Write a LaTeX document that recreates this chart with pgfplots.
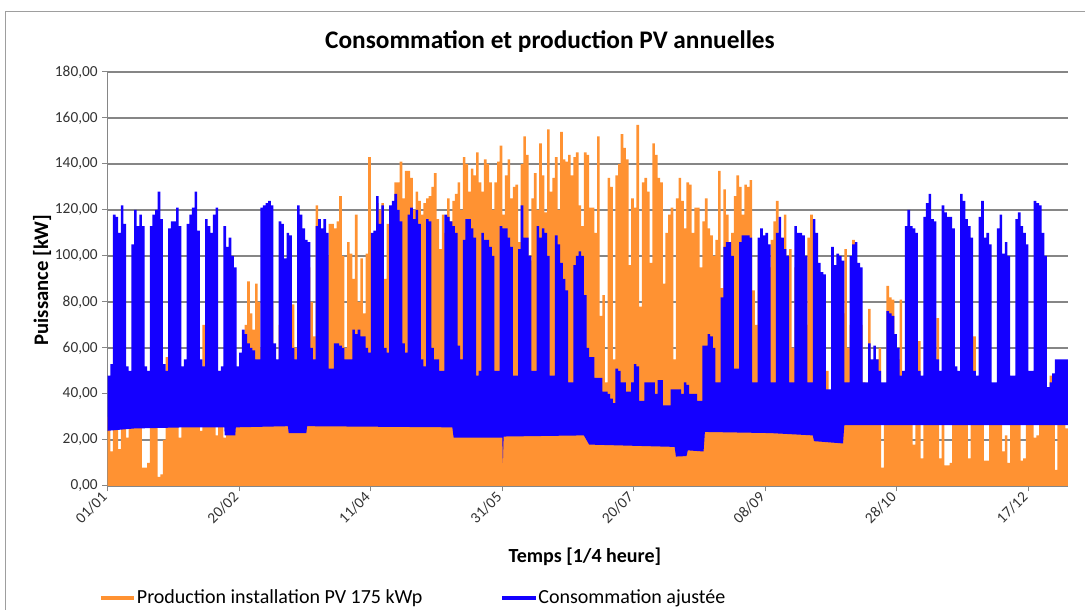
\documentclass[border=0pt]{standalone}
\usepackage{fontspec}
\setmainfont{Carlito}
\usepackage{pgfplots}
\pgfplotsset{compat=1.18}
\usepgfplotslibrary{fillbetween}
\usepackage{pgfplotstable}
\definecolor{pvorange}{RGB}{255,146,50}
\definecolor{consblue}{RGB}{20,0,255}
\definecolor{gridgray}{RGB}{134,134,134}
\definecolor{txtgray}{RGB}{50,50,50}
\pgfplotstableread{
d bm om
0 48 30
1 53 15
2 118 35
3 117 25
4 110 16
5 122 30
6 114 40
7 52 21
8 50 30
9 105 35
10 120 40
11 113 30
12 118 35
13 113 8
14 52 8
15 50 10
16 113 30
17 118 35
18 120 40
19 128 4
20 116 5
21 53 20
22 50 56
23 112 35
24 115 40
25 115 45
26 121 40
27 113 21
28 52 45
29 55 50
30 114 40
31 118 45
32 121 35
33 128 50
34 111 40
35 55 24
36 52 70
37 116 45
38 113 50
39 110 40
40 118 45
41 121 22
42 50 50
43 52 48
44 113 21
45 104 55
46 108 50
47 100 60
48 95 45
49 52 50
50 58 52
51 68 55
52 66 70
53 62 89
54 60 75
55 59 68
56 55 88
57 55 80
58 121 60
59 122 65
60 123 70
61 124 75
62 122 80
63 62 55
64 55 50
65 115 70
66 114 80
67 99 85
68 110 75
69 109 90
70 60 79
71 55 60
72 122 85
73 118 90
74 112 95
75 107 80
76 106 95
77 60 80
78 55 65
79 113 122
80 116 100
81 112 95
82 116 105
83 110 100
84 51 114
85 51 114
86 62 112
87 62 115
88 61 126
89 60 100
90 55 60
91 55 106
92 55 101
93 68 90
94 66 118
95 68 80
96 65 99
97 65 75
98 60 101
99 58 143
100 110 95
101 111 100
102 126 123
103 114 120
104 122 123
105 60 90
106 58 114
107 122 112
108 124 115
109 127 132
110 120 132
111 115 141
112 62 125
113 58 137
114 118 137
115 121 134
116 116 120
117 120 128
118 114 124
119 55 118
120 52 123
121 116 125
122 115 126
123 60 130
124 55 136
125 55 116
126 50 103
127 50 118
128 118 110
129 117 125
130 115 115
131 113 124
132 110 127
133 61 132
134 55 120
135 107 143
136 116 140
137 116 128
138 112 138
139 108 135
140 48 145
141 50 132
142 110 128
143 107 142
144 107 140
145 104 132
146 100 120
147 50 132
148 50 141
149 113 148
150 112 118
151 112 135
152 108 142
153 104 125
154 48 130
155 48 131
156 103 106
157 122 140
158 108 152
159 108 144
160 100 98
161 50 125
162 50 136
163 113 120
164 108 149
165 112 135
166 110 119
167 100 155
168 48 128
169 48 134
170 109 143
171 105 120
172 97 154
173 90 142
174 85 141
175 45 144
176 45 135
177 96 143
178 100 145
179 102 122
180 100 113
181 83 145
182 60 144
183 56 121
184 56 121
185 47 110
186 47 152
187 47 74
188 41 83
189 41 45
190 40 134
191 38 130
192 36 55
193 51 135
194 50 140
195 45 153
196 45 147
197 41 142
198 41 96
199 45 125
200 53 121
201 52 157
202 37 78
203 37 132
204 45 134
205 45 128
206 45 97
207 45 149
208 40 144
209 46 134
210 46 132
211 35 88
212 35 110
213 35 118
214 42 121
215 42 55
216 42 125
217 42 134
218 40 124
219 45 112
220 44 132
221 40 131
222 40 110
223 40 121
224 37 121
225 37 95
226 61 115
227 61 125
228 66 112
229 65 109
230 60 100
231 45 107
232 45 137
233 82 86
234 104 129
235 106 118
236 106 80
237 100 110
238 51 126
239 51 135
240 106 130
241 109 118
242 109 131
243 109 130
244 108 133
245 45 85
246 45 70
247 108 100
248 112 95
249 109 90
250 110 100
251 105 95
252 45 107
253 45 115
254 110 124
255 117 100
256 108 90
257 103 118
258 100 95
259 45 103
260 45 60
261 113 95
262 110 90
263 110 100
264 109 80
265 100 70
266 45 108
267 45 118
268 116 90
269 110 85
270 97 80
271 93 60
272 92 75
273 42 50
274 42 40
275 104 95
276 96 85
277 101 80
278 100 90
279 98 75
280 45 103
281 45 60
282 100 70
283 105 107
284 106 80
285 97 75
286 95 70
287 45 45
288 45 40
289 62 77
290 55 50
291 61 45
292 55 55
293 50 60
294 45 8
295 45 40
296 76 87
297 75 82
298 74 81
299 66 60
300 60 55
301 48 81
302 50 40
303 113 45
304 120 40
305 113 35
306 112 18
307 110 40
308 50 63
309 48 12
310 117 35
311 123 40
312 127 30
313 116 35
314 115 30
315 55 73
316 50 12
317 122 30
318 119 9
319 117 9
320 117 10
321 112 35
322 52 30
323 50 35
324 127 40
325 124 35
326 116 30
327 113 12
328 108 35
329 50 65
330 48 30
331 117 35
332 124 30
333 108 11
334 110 11
335 105 30
336 45 35
337 45 30
338 112 35
339 118 30
340 101 15
341 106 22
342 100 10
343 48 30
344 48 35
345 116 30
346 119 35
347 113 11
348 110 12
349 105 30
350 50 35
351 50 30
352 124 21
353 123 22
354 122 30
355 110 35
356 100 30
357 43 30
358 45 48
359 49 40
360 55 7
361 55 35
362 55 30
363 55 30
364 55 25
365 55 25
}\data

\begin{document}
\begin{tikzpicture}
\begin{axis}[
  set layers,
  at={(0pt,0pt)}, anchor=south west, scale only axis,
  width=720.2pt, height=310.5pt,
  xmin=0, xmax=365, ymin=0, ymax=180,
  axis x line*=bottom, axis y line*=left,
  axis line style={gridgray, line width=0.75pt},
  ytick={0,20,...,180},
  xtick={0,50,...,350},
  xticklabels={01/01,20/02,11/04,31/05,20/07,08/09,28/10,17/12},
  tick style={gridgray, line width=0.75pt},
  tick align=outside, major tick length=4pt,
  ymajorgrids, grid style={gridgray, line width=0.9pt},
  tick label style={font=\fontsize{11.5}{13}\selectfont, text=txtgray},
  yticklabel style={/pgf/number format/fixed, /pgf/number format/fixed zerofill, /pgf/number format/precision=2, /pgf/number format/use comma, /pgf/number format/assume math mode=true},
  xticklabel style={rotate=45, anchor=east},
  title={Consommation et production PV annuelles},
  title style={at={(axis description cs:0.4606,1.0773)}, anchor=center, yshift=-7pt, font=\bfseries\fontsize{19}{22}\selectfont},
  ylabel={Puissance [kW]},
  ylabel style={at={(axis description cs:-0.0684,0.4976)}, anchor=center, font=\bfseries\fontsize{15.5}{18}\selectfont},
  xlabel={Temps [1/4 heure]},
  xlabel style={at={(axis description cs:0.497,-0.1715)}, anchor=center, font=\bfseries\fontsize{15}{18}\selectfont},
  legend style={at={(axis description cs:-0.009,-0.2705)}, anchor=west, draw=none, fill=none, inner sep=0pt, nodes={inner sep=0.7pt}, font=\fontsize{15}{17}\selectfont, legend columns=2, /tikz/every even column/.append style={column sep=58pt}},
  legend cell align=left,
  legend image code/.code={\draw[#1] (0pt,0pt) -- (25pt,0pt);},
]
\addlegendimage{pvorange, line width=2.5pt}
\addlegendentry{Production installation PV 175 kWp}
\addlegendimage{consblue, line width=2.5pt}
\addlegendentry{Consommation ajustée}

\addplot[const plot, fill=pvorange, draw=none, forget plot, on layer=pre main] table[x=d, y=om] {\data} \closedcycle;
\addplot[name path=bup, const plot, draw=none, forget plot] table[x=d, y=bm] {\data};
\addplot[name path=blo, draw=none, forget plot] coordinates {
(0,24) (10,25) (30,25.5) (44.3,25.5) (44.5,22) (48.5,22) (48.7,25.5) (68.5,26) (68.8,23) (75.5,23) (75.8,26) (131,25.5) (131.5,21) (150,21) (150.2,10) (150.5,21.5) (181,22) (183,18) (215.5,17) (216,12.8) (220,13) (220.5,15.5) (226.5,15) (227,23.5) (252,23) (268,22) (268.5,19.5) (279.5,18.5) (280,26.5) (365,26.5)
};
\addplot[consblue, forget plot] fill between[of=bup and blo];
\end{axis}
\draw[gridgray!80, line width=0.75pt] (-77pt,-100pt) -- (-77pt,355.5pt) -- (740pt,355.5pt);
\pgfresetboundingbox
\path[use as bounding box] (-80.775pt,-93pt) rectangle (733pt,364.5pt);
\end{tikzpicture}
\end{document}
